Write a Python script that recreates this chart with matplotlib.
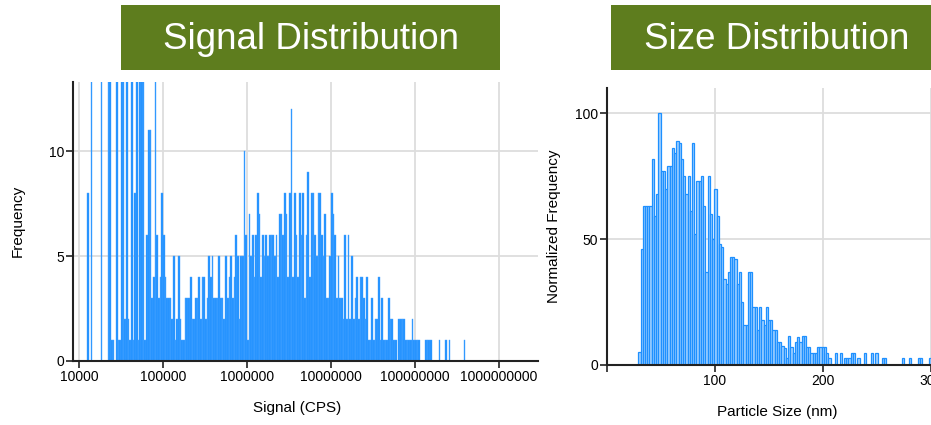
import numpy as np
import matplotlib.pyplot as plt
from matplotlib.patches import Rectangle

plt.rcParams['font.family'] = ['Liberation Sans', 'DejaVu Sans']

# Signal distribution: counts in log bins, 50 bins per decade starting at 1e4
signal_counts = [
    0, 0, 0, 0, 0, 8, 0, 35, 0, 0, 0, 0, 0, 40, 0, 0, 0, 30, 45, 1,
    1, 0, 38, 1, 1, 50, 42, 2, 36, 2, 1, 55, 1, 8, 47, 1, 60, 52, 44, 1,
    6, 11, 11, 3, 4, 25, 6, 3, 4, 8, 6, 4, 3, 3, 3, 2, 5, 1, 2, 5,
    2, 1, 1, 3, 3, 3, 4, 2, 2, 3, 3, 4, 2, 4, 4, 2, 3, 5, 4, 5,
    3, 3, 3, 5, 3, 3, 2, 5, 3, 4, 5, 3, 4, 6, 5, 2, 5, 5, 10, 6,
    1, 7, 5, 6, 4, 6, 8, 7, 4, 6, 5, 6, 5, 6, 6, 6, 5, 6, 4, 7,
    7, 6, 8, 7, 4, 8, 12, 4, 8, 6, 4, 8, 6, 8, 3, 6, 9, 4, 8, 8,
    6, 5, 8, 8, 6, 5, 7, 3, 3, 5, 8, 7, 6, 3, 5, 3, 3, 2, 6, 2,
    6, 2, 5, 2, 3, 4, 2, 4, 4, 3, 2, 4, 1, 1, 3, 1, 2, 2, 4, 1,
    3, 1, 1, 1, 3, 2, 2, 1, 1, 0, 2, 2, 2, 2, 1, 1, 1, 1, 2, 1,
    1, 1, 1, 0, 0, 0, 1, 1, 1, 1, 0, 0, 0, 0, 1, 0, 0, 0, 1, 0,
    1, 0, 0, 0, 0, 0, 0, 0, 0, 1,
]
signal_bins_per_decade = 50
signal_start_exp = 4
signal_ticks = [1e4, 1e5, 1e6, 1e7, 1e8, 1e9]
signal_tick_labels = ['10000', '100000', '1000000', '10000000', '100000000', '1000000000']

# Size distribution: normalized frequency, bins of 2.07 nm starting at 29 nm
size_start = 29.0
size_step = 2.07
size_freq = [
    5, 46, 63, 63, 63, 63, 82, 59, 68, 100, 77, 77, 70, 79, 79, 86, 84, 89, 88, 82,
    75, 68, 75, 61, 88, 52, 73, 73, 75, 63, 37, 75, 60, 50, 70, 59, 48, 47, 34, 32,
    37, 43, 43, 42, 32, 37, 25, 16, 16, 37, 37, 23, 23, 14, 23, 18, 16, 23, 18, 18,
    14, 14, 9, 9, 7.5, 6.6, 2.6, 11.6, 7, 4.6, 9, 11, 9, 11.6, 11.6, 7, 7, 4.6, 4.6, 4.6,
    7, 7, 7, 7, 4.6, 2.6, 0, 0, 4.6, 0, 4.6, 0, 2.6, 2.6, 2.6, 4.6, 4.6, 0, 2.6, 0,
    0, 4.6, 0, 0, 4.6, 0, 4.6, 0, 0, 2.6, 2.6, 0, 0, 0, 0, 0, 0, 0, 2.6, 0,
    0, 2.6, 0, 0, 0, 2.6, 2.6, 0, 0, 0, 2.6,
]
size_ticks = [100, 200, 300]

W, H = 931, 425
fig = plt.figure(figsize=(W / 100, H / 100), dpi=100)


def px_axes(x0, y0, x1, y1):
    return fig.add_axes([x0 / W, 1 - y1 / H, (x1 - x0) / W, (y1 - y0) / H])


def title_box(x0, x1, text, cx):
    fig.patches.append(Rectangle((x0 / W, 1 - 70 / H), (x1 - x0) / W, 65 / H,
                                 transform=fig.transFigure, facecolor='#5e7d1e',
                                 edgecolor='none', zorder=0))
    fig.text(cx / W, 1 - 39.5 / H, text, color='white', fontsize=26.5,
             ha='center', va='center')


title_box(121, 500, 'Signal Distribution', 311)
title_box(611, 960, 'Size Distribution', 777)

grid_kw = dict(color='#dddddd', linewidth=1.3)

# ---- left: signal distribution
ax1 = px_axes(73, 82, 538, 361)
edges = 10.0 ** (signal_start_exp + np.arange(len(signal_counts) + 1) / signal_bins_per_decade)
ax1.bar(edges[:-1], signal_counts, width=np.diff(edges), align='edge',
        color='#1e90ff', edgecolor='#4da6ff', linewidth=0.3, zorder=2)
ax1.set_xscale('log')
ax1.set_xlim(10 ** 3.929, 10 ** 9.464)
ax1.set_ylim(0, 13.29)
ax1.set_xticks(signal_ticks)
ax1.set_xticklabels(signal_tick_labels)
ax1.xaxis.set_minor_locator(plt.NullLocator())
ax1.set_yticks([0, 5, 10])
ax1.grid(True, **grid_kw)
ax1.set_axisbelow(True)
ax1.set_xlabel('Signal (CPS)', fontsize=11)
ax1.set_ylabel('Frequency', fontsize=11)
ax1.xaxis.set_label_coords(0.482, -0.143)
ax1.yaxis.set_label_coords(-0.103, 0.502)

# ---- right: size distribution
ax2 = px_axes(607, 88, 931, 365)
lefts = size_start + size_step * np.arange(len(size_freq))
ax2.bar(lefts, size_freq, width=size_step, align='edge',
        color='#9fd0ff', edgecolor='#1e90ff', linewidth=0.9, zorder=2)
ax2.set_xlim(0, 300)
ax2.set_ylim(0, 110)
ax2.set_xticks([0] + size_ticks)
ax2.set_xticklabels([''] + [str(t) for t in size_ticks])
ax2.set_yticks([0, 50, 100])
ax2.grid(True, **grid_kw)
ax2.set_axisbelow(True)
ax2.set_xlabel('Particle Size (nm)', fontsize=11)
ax2.set_ylabel('Normalized Frequency', fontsize=11)
ax2.xaxis.set_label_coords(0.525, -0.144)
ax2.yaxis.set_label_coords(-0.142, 0.502)

for ax in (ax1, ax2):
    for s in ('top', 'right'):
        ax.spines[s].set_visible(False)
    for s in ('left', 'bottom'):
        ax.spines[s].set_color('#222222')
        ax.spines[s].set_linewidth(1.5)
    ax.tick_params(axis='both', labelsize=10, length=5, width=1.2,
                   color='#222222', pad=1.5)

fig.savefig('out.png', dpi=100)
